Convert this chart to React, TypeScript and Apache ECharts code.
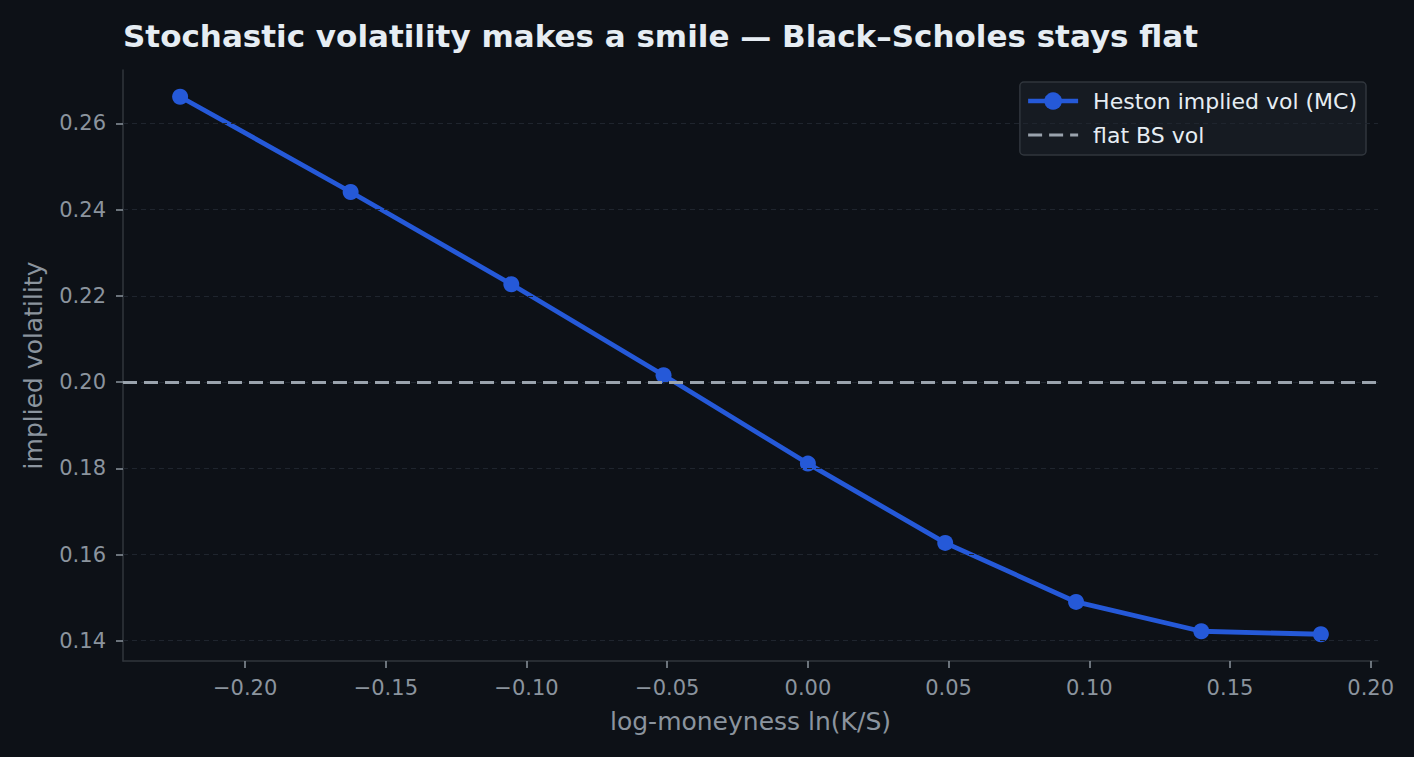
import React, { useEffect, useRef } from 'react';
import * as echarts from 'echarts';

// log-moneyness ln(K/S) for K/S = 0.80 ... 1.20
const logMoneyness = [-0.2231, -0.1625, -0.1054, -0.0513, 0.0, 0.0488, 0.0953, 0.1398, 0.1823];
const hestonVol = [0.2662, 0.2441, 0.2227, 0.2016, 0.1811, 0.1627, 0.149, 0.1422, 0.1415];
const flatBsVol = 0.2;
const xTicks = [-0.2, -0.15, -0.1, -0.05, 0.0, 0.05, 0.1, 0.15, 0.2];
const yTicks = [0.14, 0.16, 0.18, 0.2, 0.22, 0.24, 0.26];

const BG = '#0d1117';
const FG = '#e6edf3';
const MUTED = '#8b949e';
const SPINE = '#30363d';
const BLUE = '#2559d8';
const DASH = '#9aa3ad';
const FONT = '"DejaVu Sans", sans-serif';

const fmt = (v: number) => {
  const s = Math.abs(v).toFixed(2);
  return v < -1e-9 ? '\u2212' + s : s;
};

const App: React.FC = () => {
  const chartRef = useRef<HTMLDivElement>(null);

  useEffect(() => {
    document.body.style.margin = '0';
    document.body.style.background = BG;
    if (!chartRef.current) return;
    const chart = echarts.init(chartRef.current, null, { renderer: 'svg' });

    const option: any = {
      animation: false,
      backgroundColor: BG,
      textStyle: { fontFamily: FONT },
      title: {
        text: 'Stochastic volatility makes a smile \u2014 Black\u2013Scholes stays flat',
        left: 118,
        top: 15,
        textStyle: { color: FG, fontSize: 31, fontWeight: 'bold', fontFamily: FONT }
      },
      grid: { left: 123, right: 36, top: 70, bottom: 96, containLabel: false },
      legend: {
        orient: 'vertical',
        right: 48,
        top: 82,
        padding: [8, 9, 9, 6],
        itemGap: 12,
        itemWidth: 50,
        itemHeight: 22,
        backgroundColor: '#161b22',
        borderColor: SPINE,
        borderWidth: 1.5,
        borderRadius: 4,
        textStyle: { color: FG, fontSize: 22, fontFamily: FONT, padding: [0, 0, 0, 10] },
        data: [
          {
            name: 'Heston implied vol (MC)',
            lineStyle: { color: BLUE, width: 4.5 },
            itemStyle: { color: BLUE }
          },
          {
            name: 'flat BS vol',
            lineStyle: { color: DASH, width: 3, type: [14, 7] },
            itemStyle: { opacity: 0 }
          }
        ]
      },
      xAxis: {
        type: 'value',
        min: -0.2434,
        max: 0.2026,
        name: 'log-moneyness ln(K/S)',
        nameLocation: 'middle',
        nameGap: 48,
        nameTextStyle: { color: MUTED, fontSize: 25, fontFamily: FONT },
        axisLine: { show: true, onZero: false, lineStyle: { color: SPINE, width: 1.5 } },
        axisTick: { show: true, length: 7, customValues: xTicks, lineStyle: { color: MUTED, width: 1.5 } },
        axisLabel: { customValues: xTicks, color: MUTED, fontSize: 21, margin: 16, formatter: (v: number) => fmt(v) },
        splitLine: { show: false }
      },
      yAxis: {
        type: 'value',
        min: 0.1353,
        max: 0.2724,
        name: 'implied volatility',
        nameLocation: 'middle',
        nameGap: 77,
        nameTextStyle: { color: MUTED, fontSize: 25, fontFamily: FONT },
        axisLine: { show: true, onZero: false, lineStyle: { color: SPINE, width: 1.5 } },
        axisTick: { show: true, length: 7, customValues: yTicks, lineStyle: { color: MUTED, width: 1.5 } },
        axisLabel: { customValues: yTicks, color: MUTED, fontSize: 21, margin: 17, formatter: (v: number) => fmt(v) },
        splitLine: { show: false }
      },
      series: [
        {
          name: 'grid',
          type: 'line',
          data: [],
          silent: true,
          z: 1,
          markLine: {
            silent: true,
            symbol: 'none',
            label: { show: false },
            lineStyle: { color: '#1f252e', type: [5, 4], width: 1.2 },
            data: yTicks.map((y) => ({ yAxis: y }))
          }
        },
        {
          name: 'flat BS vol',
          type: 'line',
          data: [],
          symbol: 'none',
          color: DASH,
          lineStyle: { color: DASH, width: 3, type: [14, 7] },
          z: 2,
          markLine: {
            silent: true,
            symbol: 'none',
            label: { show: false },
            lineStyle: { color: DASH, width: 3, type: [14, 7] },
            data: [{ yAxis: flatBsVol }]
          }
        },
        {
          name: 'Heston implied vol (MC)',
          type: 'line',
          data: logMoneyness.map((x, i) => [x, hestonVol[i]]),
          color: BLUE,
          symbol: 'circle',
          symbolSize: 16,
          lineStyle: { color: BLUE, width: 4.8 },
          itemStyle: { color: BLUE },
          z: 3
        }
      ]
    };

    chart.setOption(option);
    return () => chart.dispose();
  }, []);

  return <div ref={chartRef} style={{ width: 1414, height: 757 }} />;
};

export default App;
